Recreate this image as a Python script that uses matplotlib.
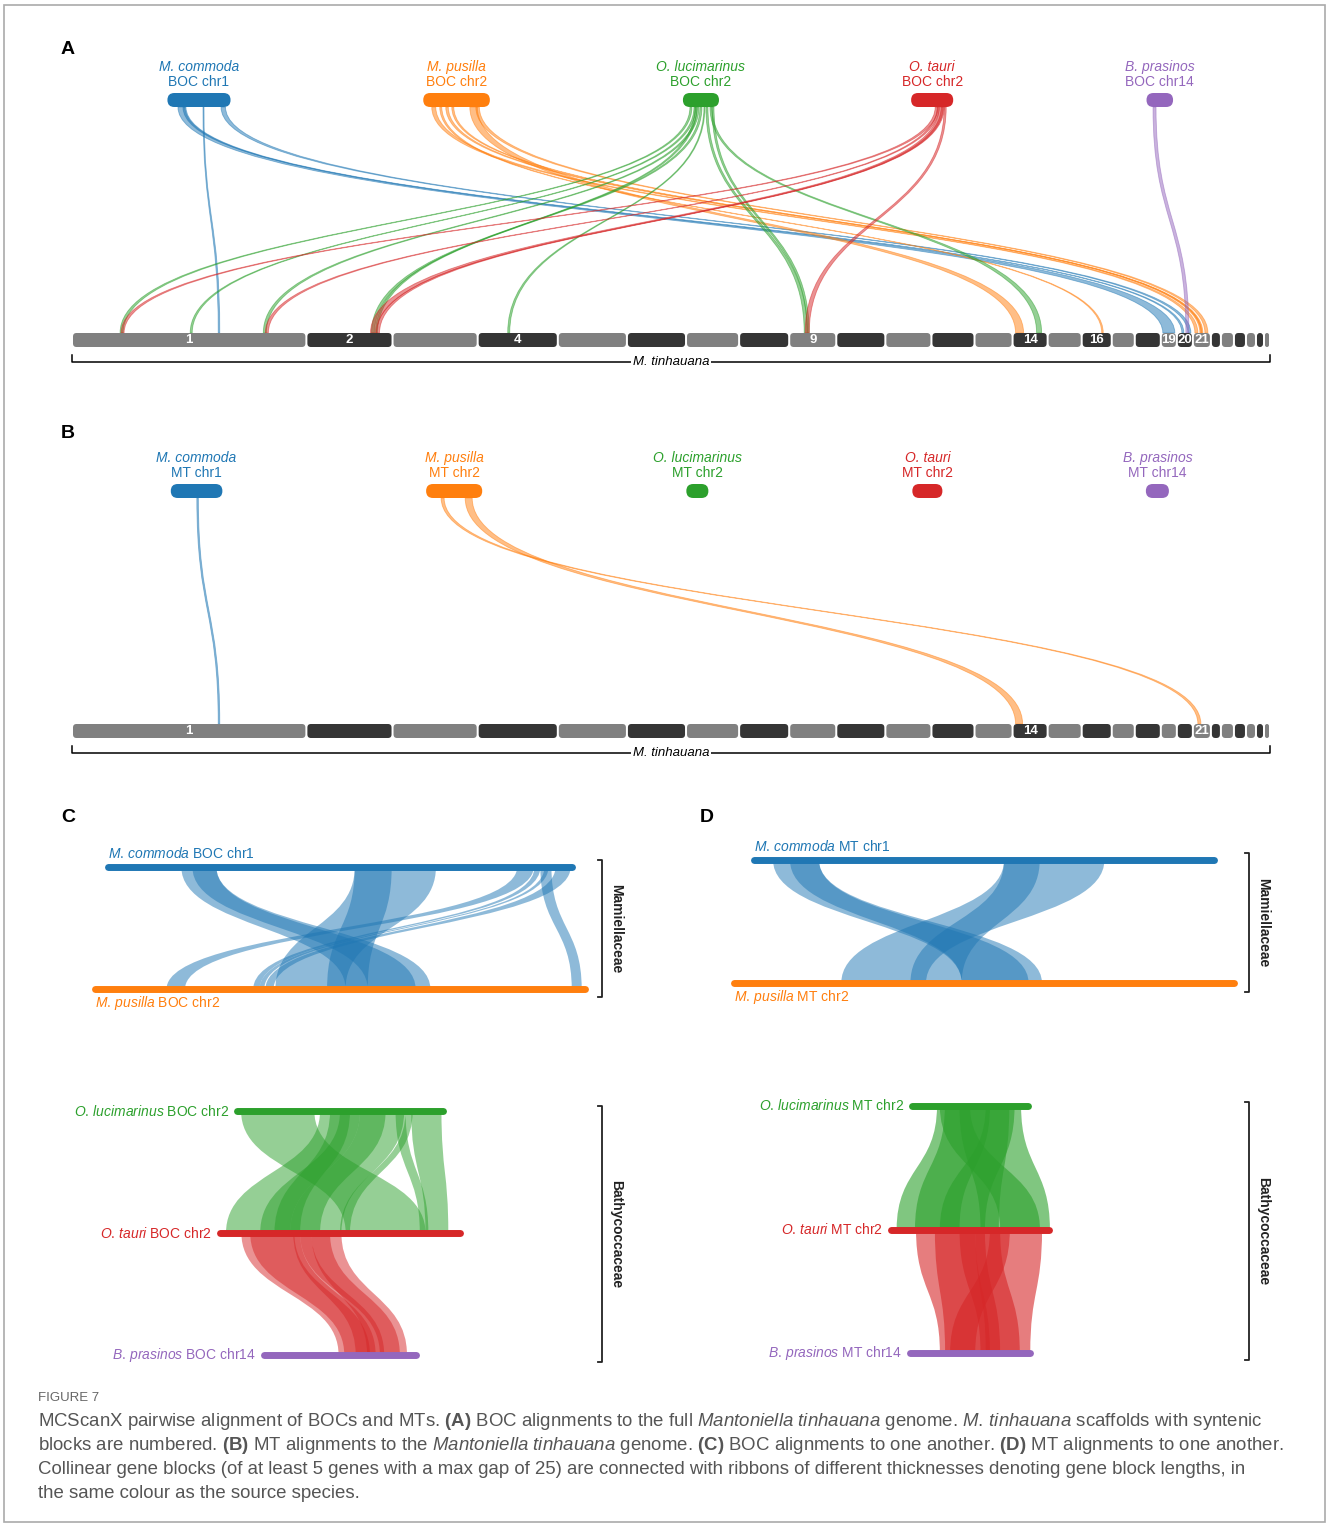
import numpy as np
import matplotlib.pyplot as plt
from matplotlib.path import Path
from matplotlib.patches import PathPatch, FancyBboxPatch, Rectangle

plt.rcParams['font.family'] = ['Liberation Sans', 'DejaVu Sans']
plt.rcParams['mathtext.fontset'] = 'custom'
plt.rcParams['mathtext.rm'] = 'Liberation Sans'
plt.rcParams['mathtext.it'] = 'Liberation Sans:italic'
plt.rcParams['mathtext.bf'] = 'Liberation Sans:bold'

W, H = 1328, 1526

# ---- data ----
species = ['M. commoda', 'M. pusilla', 'O. lucimarinus', 'O. tauri', 'B. prasinos']
colours = ['#1f77b4', '#ff7f0e', '#2ca02c', '#d62728', '#9467bd']
chrom = ['chr1', 'chr2', 'chr2', 'chr2', 'chr14']
boc_len = [1.26, 1.33, 0.72, 0.84, 0.53]   # Mb
mt_len = [1.03, 1.12, 0.44, 0.60, 0.46]    # Mb

# M. tinhauana scaffolds (Mb)
scaffold_len = [4.68, 1.72, 1.70, 1.60, 1.38, 1.18, 1.06, 1.00, 0.94, 0.98,
                0.92, 0.86, 0.76, 0.70, 0.68, 0.60, 0.46, 0.52, 0.32, 0.32,
                0.36, 0.20, 0.26, 0.24, 0.20, 0.16, 0.12]
numbered_A = [1, 2, 4, 9, 14, 16, 19, 20, 21]
numbered_B = [1, 14, 21]

# (species, start on BOC/MT, end, scaffold, start on scaffold, end)  Mb
links_A = [
    (0, 0.21, 0.35, 19, 0.04, 0.28),
    (0, 0.71, 0.73, 1, 2.92, 2.95),
    (0, 1.07, 1.16, 20, 0.22, 0.28),
    (0, 0.31, 0.37, 20, 0.10, 0.14),
    (1, 0.17, 0.25, 21, 0.04, 0.10),
    (1, 0.33, 0.37, 16, 0.40, 0.43),
    (1, 0.45, 0.50, 21, 0.14, 0.20),
    (1, 0.93, 1.08, 14, 0.06, 0.22),
    (1, 1.05, 1.12, 21, 0.24, 0.30),
    (1, 0.57, 0.61, 21, 0.16, 0.18),
    (2, 0.14, 0.18, 1, 0.96, 1.02),
    (2, 0.22, 0.26, 1, 2.36, 2.40),
    (2, 0.28, 0.32, 1, 3.82, 3.88),
    (2, 0.34, 0.38, 2, 1.30, 1.36),
    (2, 0.24, 0.28, 2, 1.38, 1.42),
    (2, 0.42, 0.44, 4, 0.60, 0.64),
    (2, 0.46, 0.50, 9, 0.30, 0.36),
    (2, 0.58, 0.62, 9, 0.36, 0.40),
    (2, 0.54, 0.58, 14, 0.48, 0.58),
    (3, 0.48, 0.54, 1, 0.98, 1.04),
    (3, 0.52, 0.56, 1, 3.86, 3.92),
    (3, 0.56, 0.66, 2, 1.28, 1.40),
    (3, 0.60, 0.64, 2, 1.40, 1.46),
    (3, 0.66, 0.70, 9, 0.32, 0.40),
    (4, 0.13, 0.19, 20, 0.18, 0.24),
]
links_B = [
    (0, 0.52, 0.55, 1, 2.92, 2.95),
    (1, 0.78, 0.92, 14, 0.06, 0.20),
    (1, 0.30, 0.36, 21, 0.10, 0.16),
]

# (top start, top end, bottom start, bottom end)  Mb
syn_C_com_pus = [(0.20, 0.295, 0.68, 0.91), (0.23, 0.295, 0.74, 0.87),
                 (0.67, 0.89, 0.49, 0.68), (0.67, 0.77, 0.63, 0.74),
                 (1.11, 1.155, 0.195, 0.245), (1.157, 1.173, 0.43, 0.447),
                 (1.184, 1.195, 0.447, 0.46), (1.214, 1.255, 0.463, 0.485),
                 (1.173, 1.203, 1.293, 1.32)]
syn_C_luc_tau = [(0.013, 0.27, 0.44, 0.72), (0.29, 0.43, 0.02, 0.245),
                 (0.36, 0.52, 0.14, 0.35), (0.43, 0.585, 0.245, 0.425),
                 (0.325, 0.395, 0.19, 0.28), (0.61, 0.716, 0.72, 0.80),
                 (0.555, 0.59, 0.70, 0.73), (0.59, 0.615, 0.42, 0.455)]
syn_C_tau_pra = [(0.074, 0.26, 0.26, 0.37), (0.105, 0.28, 0.28, 0.39),
                 (0.256, 0.32, 0.32, 0.42), (0.32, 0.425, 0.36, 0.50),
                 (0.28, 0.385, 0.405, 0.475)]
syn_D_com_pus = [(0.042, 0.145, 0.51, 0.69), (0.08, 0.145, 0.51, 0.66),
                 (0.56, 0.64, 0.395, 0.51), (0.56, 0.785, 0.24, 0.43)]
syn_D_luc_tau = [(0.094, 0.296, 0.02, 0.26), (0.124, 0.37, 0.09, 0.41),
                 (0.18, 0.415, 0.34, 0.605), (0.28, 0.39, 0.185, 0.357),
                 (0.105, 0.22, 0.415, 0.567)]
syn_D_tau_pra = [(0.094, 0.32, 0.115, 0.306), (0.32, 0.575, 0.29, 0.46),
                 (0.376, 0.452, 0.154, 0.25), (0.26, 0.357, 0.27, 0.345),
                 (0.166, 0.415, 0.135, 0.42)]

caption = [
    r'MCScanX pairwise alignment of BOCs and MTs. $\bf{(A)}$ BOC alignments to the full $\it{Mantoniella\ tinhauana}$ genome. $\it{M.\!\ tinhauana}$ scaffolds with syntenic',
    r'blocks are numbered. $\bf{(B)}$ MT alignments to the $\it{Mantoniella\ tinhauana}$ genome. $\bf{(C)}$ BOC alignments to one another. $\bf{(D)}$ MT alignments to one another.',
    r'Collinear gene blocks (of at least 5 genes with a max gap of 25) are connected with ribbons of different thicknesses denoting gene block lengths, in',
    r'the same colour as the source species.',
]

# ---- layout ----
top_pos_A = [0.106, 0.321, 0.525, 0.718, 0.908]
top_pos_B = [0.104, 0.319, 0.522, 0.714, 0.906]

fig = plt.figure(figsize=(W / 100, H / 100), dpi=100)
base = fig.add_axes([0, 0, 1, 1])
base.set_xlim(0, W)
base.set_ylim(H, 0)
base.axis('off')


def panel_axes(x0, y0, x1, y1):
    ax = fig.add_axes([x0 / W, 1 - y1 / H, (x1 - x0) / W, (y1 - y0) / H])
    ax.axis('off')
    return ax


def ribbon(ax, a, b, y0, c, d, y1, col, alpha=0.5, lw=0.0, z=1):
    ym = (y0 + y1) / 2
    verts = [(a, y0), (a, ym), (c, ym), (c, y1), (d, y1), (d, ym), (b, ym), (b, y0), (a, y0)]
    codes = [Path.MOVETO, Path.CURVE4, Path.CURVE4, Path.CURVE4, Path.LINETO,
             Path.CURVE4, Path.CURVE4, Path.CURVE4, Path.CLOSEPOLY]
    ax.add_patch(PathPatch(Path(verts, codes), fc=col, ec=col, lw=lw, alpha=alpha,
                           zorder=z, clip_on=False))


G = sum(scaffold_len)
sc_start = np.concatenate([[0], np.cumsum(scaffold_len)[:-1]])


def genome_panel(ax, top_pos, lengths, links, numbered, kind):
    px_x = G / 1198.0
    px_y = 1 / 240.0
    ax.set_xlim(0, G)
    ax.set_ylim(0, 1)
    asp = px_y / px_x
    gap = 2 * px_x
    hh = 7 * px_y
    for i, (s, L) in enumerate(zip(sc_start, scaffold_len)):
        col = '#808080' if i % 2 == 0 else '#353535'
        w = L - gap
        r = min(3.5 * px_x, w / 2)
        ax.add_patch(FancyBboxPatch((s + gap / 2, -hh), w, 2 * hh,
                                    boxstyle='round,pad=0,rounding_size=%f' % r,
                                    mutation_aspect=asp, fc=col, ec='none', zorder=3,
                                    clip_on=False))
        if i + 1 in numbered:
            ax.text(s + L / 2, 0, str(i + 1), color='white', fontweight='bold',
                    fontsize=9.5, ha='center', va='center', zorder=4)
    starts = []
    for i, p in enumerate(top_pos):
        L = lengths[i]
        s = p * G - L / 2
        starts.append(s)
        ax.add_patch(FancyBboxPatch((s, 1 - hh), L, 2 * hh,
                                    boxstyle='round,pad=0,rounding_size=%f' % (6.9 * px_x),
                                    mutation_aspect=asp, fc=colours[i], ec='none', zorder=3,
                                    clip_on=False))
        ax.text(p * G, 1 + 33 * px_y, species[i], color=colours[i], fontstyle='italic',
                fontsize=10, ha='center', va='center')
        ax.text(p * G, 1 + 18 * px_y, kind + ' ' + chrom[i], color=colours[i],
                fontsize=10, ha='center', va='center')
    for sp, a, b, sc, c, d in links:
        x0 = sc_start[sc - 1]
        ribbon(ax, starts[sp] + a, starts[sp] + b, 1 - hh, x0 + c, x0 + d, hh,
               colours[sp], alpha=0.5, lw=0.6, z=2)
    yb = -22 * px_y
    ax.plot([0, 0, G, G], [yb + 7 * px_y, yb, yb, yb + 7 * px_y], color='black', lw=1.1,
            clip_on=False)
    ax.text(G * 0.5, yb, 'M. tinhauana', fontstyle='italic', fontsize=9.5, ha='center',
            va='center', bbox=dict(fc='white', ec='none', pad=1))


axA = panel_axes(72, 100, 1270, 340)
genome_panel(axA, top_pos_A, boc_len, links_A, numbered_A, 'BOC')
axB = panel_axes(72, 491, 1270, 731)
genome_panel(axB, top_pos_B, mt_len, links_B, numbered_B, 'MT')


def stack_panel(ax, idx, lens, kind, syns, label_side, alpha=0.5):
    n = len(idx)
    ys = list(range(n - 1, -1, -1))
    for k in range(n - 1):
        top, bot = idx[k], idx[k + 1]
        for a, b, c, d in syns[k]:
            ribbon(ax, a - lens[top] / 2, b - lens[top] / 2, ys[k],
                   c - lens[bot] / 2, d - lens[bot] / 2, ys[k + 1], colours[top], alpha=alpha)
    for k, i in enumerate(idx):
        L = lens[i]
        ax.plot([-L / 2, L / 2], [ys[k], ys[k]], color=colours[i], lw=5,
                solid_capstyle='round', zorder=3, clip_on=False)
        genus, epithet = species[i].split(' ')
        s = r'$\it{%s\!\ %s}$ %s %s' % (genus, epithet, kind, chrom[i])
        if label_side == 'updown':
            dy = 10 if k == 0 else -10
            ax.annotate(s, (-L / 2, ys[k]), xytext=(0, dy), textcoords='offset points',
                        ha='left', va='center', color=colours[i], fontsize=10)
        else:
            ax.annotate(s, (-L / 2, ys[k]), xytext=(-6, 0), textcoords='offset points',
                        ha='right', va='center', color=colours[i], fontsize=10)


axCm = panel_axes(60, 867, 620, 989)
axCm.set_xlim((60 - 340) / 369, (620 - 340) / 369)
axCm.set_ylim(0, 1)
stack_panel(axCm, [0, 1], boc_len, 'BOC', [syn_C_com_pus], 'updown')

axCb = panel_axes(60, 1111, 620, 1355)
axCb.set_xlim((60 - 340) / 285, (620 - 340) / 285)
axCb.set_ylim(0, 2)
stack_panel(axCb, [2, 3, 4], boc_len, 'BOC', [syn_C_luc_tau, syn_C_tau_pra], 'left', 0.5)

axDm = panel_axes(700, 860, 1268, 983)
axDm.set_xlim((700 - 984) / 446, (1268 - 984) / 446)
axDm.set_ylim(0, 1)
stack_panel(axDm, [0, 1], mt_len, 'MT', [syn_D_com_pus], 'updown')

axDb = panel_axes(700, 1106, 1268, 1353)
axDb.set_xlim((700 - 970) / 262, (1268 - 970) / 262)
axDb.set_ylim(0, 2)
stack_panel(axDb, [2, 3, 4], mt_len, 'MT', [syn_D_luc_tau, syn_D_tau_pra], 'left', 0.6)

# family brackets
for x, y0, y1, name in [(602, 860, 997, 'Mamiellaceae'), (602, 1106, 1362, 'Bathycoccaceae'),
                        (1249, 853, 992, 'Mamiellaceae'), (1249, 1102, 1360, 'Bathycoccaceae')]:
    base.plot([x - 4, x, x, x - 4], [y0, y0, y1, y1], color='#222222', lw=1.3)
    base.text(x + 14, (y0 + y1) / 2, name, rotation=270, fontweight='bold', fontsize=10,
              ha='center', va='center', color='#222222')

for x, y, s in [(68, 50, 'A'), (68, 433, 'B'), (68, 817, 'C'), (707, 817, 'D')]:
    base.text(x, y, s, fontweight='bold', fontsize=14, ha='center', va='center')

# caption
base.text(38, 1398, 'FIGURE 7', fontsize=9.5, color='#666666', va='center')
cap_txt = [base.text(38, 1422 + 24 * i, line, fontsize=12, color='#555555', va='center')
           for i, line in enumerate(caption)]
fig.canvas.draw()
w = cap_txt[0].get_window_extent().width
for t in cap_txt:
    t.set_fontsize(12 * 1224.0 / w)

base.add_patch(Rectangle((4, 5), 1321, 1517, fill=False, ec='#aaaaaa', lw=1.2))

fig.savefig('out.png', dpi=100)
